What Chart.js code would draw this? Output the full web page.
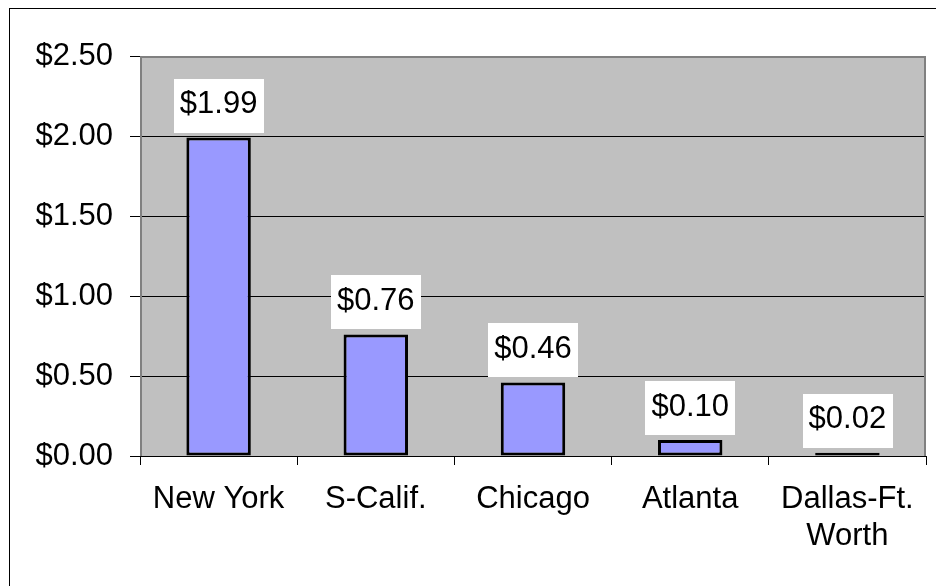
<!DOCTYPE html>
<html>
<head>
<meta charset="utf-8">
<script src="https://cdn.jsdelivr.net/npm/chart.js@4/dist/chart.umd.min.js"></script>
<style>
  html, body { margin: 0; padding: 0; background: #fff; }
  #wrap { width: 936px; height: 586px; }
</style>
</head>
<body>
<div id="wrap"><canvas id="chartCosto" width="936" height="586"></canvas></div>
<script>
const ciudades = ['New York', 'S-Calif.', 'Chicago', 'Atlanta', ['Dallas-Ft.', 'Worth']]
const valores  = [1.99, 0.76, 0.46, 0.10, 0.02]
const yMin  = 0
const yMax  = 2.5
const yPaso = 0.5

const negro   = '#000000'
const gris    = '#c0c0c0'
const grisB   = '#808080'
const lila    = '#9999ff'
const fuente  = 'Liberation Sans, Arial, sans-serif'

Chart.defaults.font.family = fuente
Chart.defaults.font.size = 31
Chart.defaults.color = negro

const dinero = v => '$' + Number(v).toFixed(2)

// ── Fondo, marcos y etiquetas ──
const marcos = {
  id: 'marcos',
  beforeDraw(chart) {
    const { ctx, chartArea: a } = chart
    ctx.save()
    ctx.fillStyle = gris
    ctx.fillRect(a.left, a.top, a.right - a.left, a.bottom - a.top)
    // borde exterior
    ctx.strokeStyle = negro
    ctx.lineWidth = 1
    ctx.strokeRect(9.5, 8.5, 2000, 2000)
    ctx.restore()
  },
  beforeDatasetsDraw(chart) {
    const { ctx, chartArea: a } = chart
    ctx.save()
    ctx.strokeStyle = grisB
    ctx.lineWidth = 2
    ctx.beginPath()
    ctx.moveTo(a.left + 1, a.bottom)
    ctx.lineTo(a.left + 1, a.top + 1)
    ctx.lineTo(a.right - 1, a.top + 1)
    ctx.lineTo(a.right - 1, a.bottom)
    ctx.stroke()
    ctx.strokeStyle = negro
    ctx.lineWidth = 1
    ctx.beginPath()
    ctx.moveTo(a.left, a.bottom + 0.5)
    ctx.lineTo(a.right, a.bottom + 0.5)
    ctx.stroke()
    ctx.restore()
  },
  afterDatasetsDraw(chart) {
    const { ctx } = chart
    const meta = chart.getDatasetMeta(0)
    ctx.save()
    ctx.font = '31px ' + fuente
    ctx.textAlign = 'center'
    ctx.textBaseline = 'middle'
    meta.data.forEach((bar, i) => {
      const txt = dinero(valores[i])
      const w = ctx.measureText(txt).width + 12
      const h = 54
      const bottom = bar.y - 5
      ctx.fillStyle = '#ffffff'
      ctx.fillRect(Math.round(bar.x - w / 2), Math.round(bottom - h), Math.round(w), h)
      ctx.fillStyle = negro
      ctx.fillText(txt, bar.x, bottom - h / 2 - 1)
    })
    ctx.restore()
  }
}

new Chart(document.getElementById('chartCosto'), {
  type: 'bar',
  data: {
    labels: ciudades,
    datasets: [{
      data: valores,
      backgroundColor: lila,
      borderColor: negro,
      borderWidth: 3,
      borderSkipped: false,
      barPercentage: 0.41,
      categoryPercentage: 1
    }]
  },
  options: {
    responsive: false,
    animation: false,
    layout: { padding: { top: 56, right: 10, left: 0, bottom: 0 } },
    scales: {
      y: {
        min: yMin,
        max: yMax,
        afterFit: s => { s.width = 140 },
        ticks: { stepSize: yPaso, padding: 17, color: negro, callback: dinero },
        grid: { color: negro, tickColor: negro, tickLength: 10, lineWidth: 1 },
        border: { display: false }
      },
      x: {
        afterFit: s => { s.height = 130 },
        ticks: { padding: 16, color: negro, font: { lineHeight: '37px' }, maxRotation: 0 },
        grid: { offset: true, drawOnChartArea: false, tickColor: negro, tickLength: 9 },
        border: { display: false }
      }
    },
    plugins: {
      legend: { display: false },
      tooltip: { enabled: false }
    }
  },
  plugins: [marcos]
})
</script>
</body>
</html>
